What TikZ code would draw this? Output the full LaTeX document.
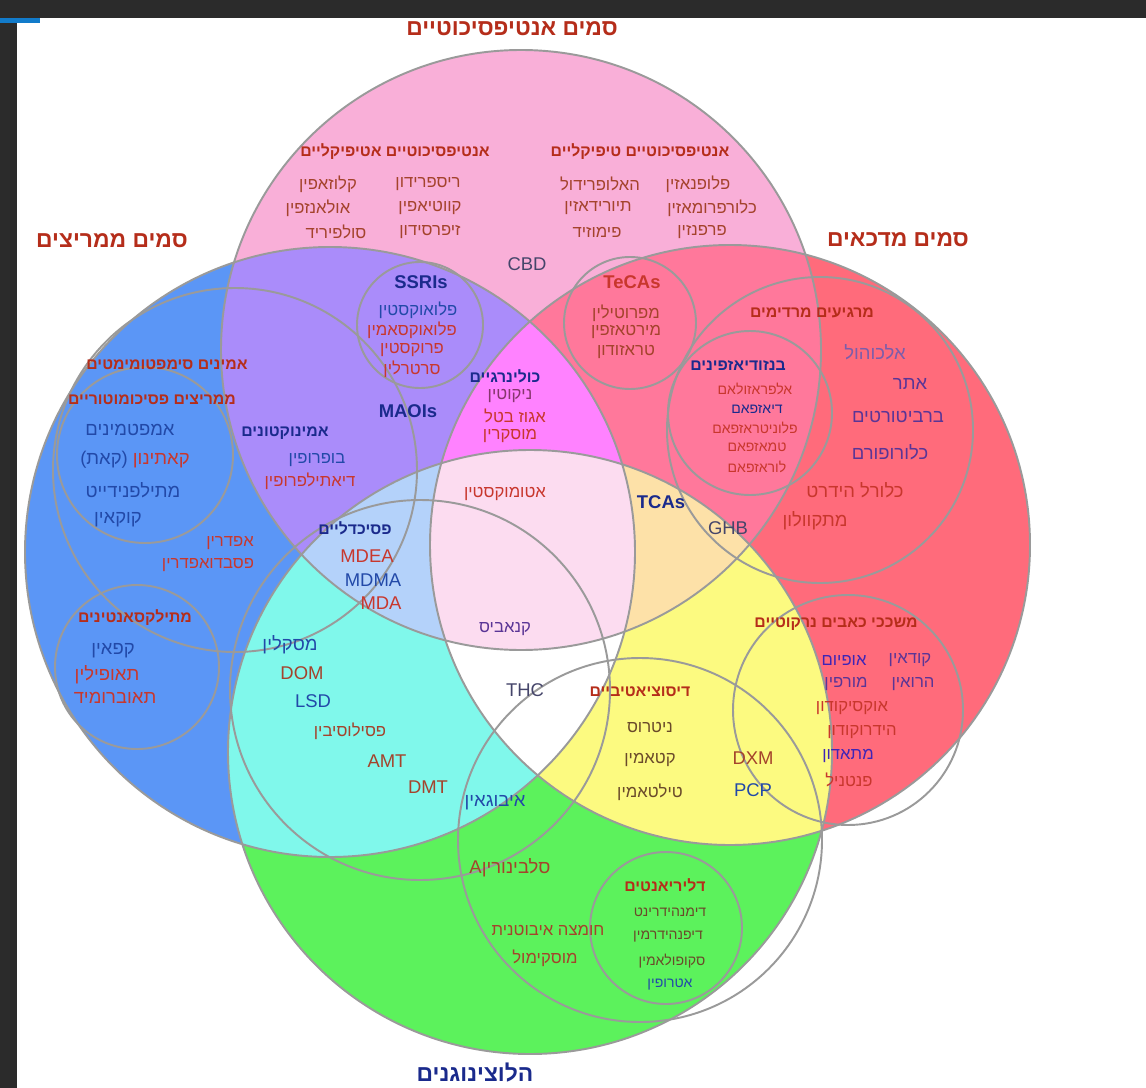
\documentclass[tikz,border=0pt]{standalone}
\usepackage{fontspec}
\setmainfont{Liberation Sans}
\newfontfamily\heb[Script=Hebrew]{Liberation Sans}
\TeXXeTstate=1
\newcommand{\hebt}[1]{{\heb\beginR #1\endR}}
\definecolor{framedark}{HTML}{2B2B2B}
\definecolor{pinkc}{HTML}{F9AFD8}
\definecolor{bluec}{HTML}{5B96F6}
\definecolor{redc}{HTML}{FF6B7B}
\definecolor{greenc}{HTML}{5CF25C}
\definecolor{purplec}{HTML}{AA8CFA}
\definecolor{pinkredc}{HTML}{FF789B}
\definecolor{magc}{HTML}{FF82FF}
\definecolor{lpinkc}{HTML}{FCDCF0}
\definecolor{lbluec}{HTML}{B4D2FA}
\definecolor{cyanc}{HTML}{80F8EB}
\definecolor{yellowc}{HTML}{FCFA80}
\definecolor{orangec}{HTML}{FDE1A8}
\definecolor{ringgray}{HTML}{9A9A9A}
\definecolor{titlered}{HTML}{B52D1A}
\definecolor{darkblue}{HTML}{1A2A8C}
\definecolor{itred}{HTML}{C8372D}
\definecolor{itbrown}{HTML}{A4432C}
\definecolor{itblue}{HTML}{2249A8}
\definecolor{itpurple}{HTML}{5A3596}
\definecolor{itgray}{HTML}{45456A}
\definecolor{itolive}{HTML}{6A4A2A}
\def\PK{(521,350) circle [radius=300]}
\def\BL{(330,552) circle [radius=305]}
\def\RD{(730,545) circle [radius=300]}
\def\GR{(530,752) circle [radius=302]}
\begin{document}
\begin{tikzpicture}[x=0.02cm,y=-0.02cm,
  ring/.style={draw=ringgray,line width=1.1pt},
  ttl/.style={font=\bfseries\fontsize{13}{15}\selectfont,text=titlered},
  sub/.style={font=\bfseries\fontsize{9}{11}\selectfont,text=titlered},
  lat/.style={font=\bfseries\fontsize{10.5}{12}\selectfont,text=darkblue},
  itm/.style={font=\fontsize{9.5}{11}\selectfont},
  big/.style={font=\fontsize{10.5}{12}\selectfont},
  sm/.style={font=\fontsize{8}{10}\selectfont},
  every node/.style={inner sep=0pt}]
\useasboundingbox (0,0) rectangle (1146,1088);
\fill[white] (0,0) rectangle (1146,1088);
\fill[framedark] (0,0) rectangle (1146,18);
\fill[framedark] (0,0) rectangle (17,1088);
\fill[cyan!60!blue] (0,18) rectangle (40,23);
% base circles
\fill[pinkc] \PK; \fill[bluec] \BL; \fill[redc] \RD; \fill[greenc] \GR;
% pairs
\begin{scope}\clip \PK; \fill[purplec] \BL; \end{scope}
\begin{scope}\clip \PK; \fill[pinkredc] \RD; \end{scope}
\begin{scope}\clip \BL; \fill[cyanc] \GR; \end{scope}
\begin{scope}\clip \RD; \fill[yellowc] \GR; \end{scope}
% triples
\begin{scope}\clip \PK; \clip \BL; \fill[magc] \RD; \end{scope}
\begin{scope}\clip \PK; \clip \BL; \fill[lbluec] \GR; \end{scope}
\begin{scope}\clip \PK; \clip \RD; \fill[orangec] \GR; \end{scope}
\begin{scope}\clip \BL; \clip \RD; \fill[white] \GR; \end{scope}
% all four
\begin{scope}\clip \PK; \clip \BL; \clip \RD; \fill[lpinkc] \GR; \end{scope}
% outlines
\draw[ring] \PK; \draw[ring] \BL; \draw[ring] \RD; \draw[ring] \GR;
\draw[ring] (420,325) circle [radius=63];   % SSRIs
\draw[ring] (630,323) circle [radius=66];   % TeCAs
\draw[ring] (145,455) circle [radius=88];   % psychostimulants
\draw[ring] (235,470) circle [radius=182];  % sympathomimetic amines
\draw[ring] (137,667) circle [radius=82];   % xanthines
\draw[ring] (820,430) circle [radius=153];  % sedative hypnotics
\draw[ring] (750,413) circle [radius=82];   % benzodiazepines
\draw[ring] (848,710) circle [radius=115];  % opioids
\draw[ring] (420,690) circle [radius=190];  % psychedelics
\draw[ring] (640,840) circle [radius=182];  % dissociatives
\draw[ring] (666,928) circle [radius=76];   % deliriants
% titles
\node[ttl] (tA) at (512,29) {\hebt{סמים אנטיפסיכוטיים}};
\node[ttl] (tS) at (112,241) {\hebt{סמים ממריצים}};
\node[ttl] (tD) at (898,240) {\hebt{סמים מדכאים}};
\node[ttl,text=darkblue] (tH) at (475,1073) {\hebt{הלוצינוגנים}};
% antipsychotics
\node[sub] (atyp) at (395,152) {\hebt{אנטיפסיכוטיים אטיפיקליים}};
\node[sub] (typ) at (640,152) {\hebt{אנטיפסיכוטיים טיפיקליים}};
\node[itm,text=itbrown] (a1) at (428,184) {\hebt{ריספרידון}};
\node[itm,text=itbrown] (a2) at (430,208) {\hebt{קווטיאפין}};
\node[itm,text=itbrown] (a3) at (430,232) {\hebt{זיפרסידון}};
\node[itm,text=itbrown] (a4) at (328,184) {\hebt{קלוזאפין}};
\node[itm,text=itbrown] (a5) at (318,208) {\hebt{אולאנזפין}};
\node[itm,text=itbrown] (a6) at (336,232) {\hebt{סולפיריד}};
\node[itm,text=itbrown] (b1) at (698,184) {\hebt{פלופנאזין}};
\node[itm,text=itbrown] (b2) at (712,208) {\hebt{כלורפרומאזין}};
\node[itm,text=itbrown] (b3) at (702,232) {\hebt{פרפנזין}};
\node[itm,text=itbrown] (b4) at (600,184) {\hebt{האלופרידול}};
\node[itm,text=itbrown] (b5) at (598,208) {\hebt{תיורידאזין}};
\node[itm,text=itbrown] (b6) at (597,232) {\hebt{פימוזיד}};
\node[big,text=itgray] (cbd) at (527,264) {CBD};
% SSRIs
\node[lat] (ssri) at (421,282) {SSRIs};
\node[itm,text=itblue] (s1) at (418,310) {\hebt{פלואוקסטין}};
\node[itm,text=itred] (s2) at (412,330) {\hebt{פלואוקסאמין}};
\node[itm,text=itred] (s3) at (412,350) {\hebt{פרוקסטין}};
\node[itm,text=itred] (s4) at (412,369) {\hebt{סרטרלין}};
\node[lat] (maoi) at (408,411) {MAOIs};
% cholinergics
\node[sub,text=darkblue] (chol) at (505,376) {\hebt{כולינרגיים}};
\node[itm,text=itpurple!60!itred] (c1) at (510,396) {\hebt{ניקוטין}};
\node[itm,text=itred] (c2) at (515,416) {\hebt{אגוז בטל}};
\node[itm,text=itred] (c3) at (510,436) {\hebt{מוסקרין}};
% TeCAs
\node[lat,text=itred] (tecas) at (632,282) {TeCAs};
\node[itm,text=itbrown] (e1) at (626,313) {\hebt{מפרוטילין}};
\node[itm,text=itbrown] (e2) at (626,332) {\hebt{מירטאזפין}};
\node[itm,text=itbrown] (e3) at (626,352) {\hebt{טראזודון}};
% sedatives
\node[sub] (sed) at (812,313) {\hebt{מרגיעים מרדימים}};
\node[sub,text=darkblue] (benzo) at (738,366) {\hebt{בנזודיאזפינים}};
\node[sm,text=itred] (z1) at (755,389) {\hebt{אלפראזולאם}};
\node[sm,text=darkblue] (z2) at (757,409) {\hebt{דיאזפאם}};
\node[sm,text=itred] (z3) at (755,428) {\hebt{פלוניטראזפאם}};
\node[sm,text=itred] (z4) at (757,447) {\hebt{טמאזפאם}};
\node[sm,text=itred] (z5) at (757,467) {\hebt{לוראזפאם}};
\node[big,text=itpurple!80] (d1) at (875,352) {\hebt{אלכוהול}};
\node[big,text=itpurple] (d2) at (910,384) {\hebt{אתר}};
\node[big,text=itpurple] (d3) at (898,417) {\hebt{ברביטורטים}};
\node[big,text=itpurple] (d4) at (890,452) {\hebt{כלורופורם}};
\node[big,text=itred] (d5) at (855,490) {\hebt{כלורל הידרט}};
\node[big,text=itred] (d6) at (815,521) {\hebt{מתקוולון}};
% centre
\node[lat] (tcas) at (661,502) {TCAs};
\node[big,text=itgray] (ghb) at (728,528) {GHB};
\node[itm,text=itred] (atx) at (505,494) {\hebt{אטומוקסטין}};
\node[itm,text=itpurple] (can) at (505,629) {\hebt{קנאביס}};
\node[big,text=itgray] (thc) at (525,690) {THC};
% stimulants
\node[sub] (symp) at (167,365) {\hebt{אמינים סימפטומימטים}};
\node[sub] (psst) at (152,400) {\hebt{ממריצים פסיכומוטוריים}};
\node[big,text=itblue] (m1) at (130,430) {\hebt{אמפטמינים}};
\node[big] (m2) at (135,460) {\textcolor{itblue}{(}\textcolor{itblue}{\hebt{קאת}}\textcolor{itblue}{)} \textcolor{itred}{\hebt{קאתינון}}};
\node[big,text=itblue] (m3) at (133,490) {\hebt{מתילפנידייט}};
\node[big,text=itblue] (m4) at (118,520) {\hebt{קוקאין}};
\node[itm,text=itred] (m5) at (230,543) {\hebt{אפדרין}};
\node[itm,text=itred] (m6) at (208,565) {\hebt{פסבדואפדרין}};
\node[sub,text=darkblue] (amk) at (285,433) {\hebt{אמינוקטונים}};
\node[itm,text=itblue] (k1) at (317,460) {\hebt{בופרופין}};
\node[itm,text=itred] (k2) at (310,481) {\hebt{דיאתילפרופין}};
\node[sub] (xan) at (135,618) {\hebt{מתילקסאנטינים}};
\node[big,text=itblue] (x1) at (113,651) {\hebt{קפאין}};
\node[big,text=itred] (x2) at (107,675) {\hebt{תאופילין}};
\node[big,text=itred] (x3) at (115,698) {\hebt{תאוברומיד}};
% psychedelics
\node[sub,text=darkblue] (psyd) at (355,528) {\hebt{פסיכדליים}};
\node[big,text=itred] (p1) at (367,556) {MDEA};
\node[big,text=itblue] (p2) at (373,580) {MDMA};
\node[big,text=itred] (p3) at (381,603) {MDA};
\node[big,text=itblue] (p4) at (290,645) {\hebt{מסקלין}};
\node[big,text=itbrown] (p5) at (302,673) {DOM};
\node[big,text=itblue] (p6) at (313,701) {LSD};
\node[itm,text=itbrown] (p7) at (350,731) {\hebt{פסילוסיבין}};
\node[big,text=itbrown] (p8) at (387,761) {AMT};
\node[big,text=itbrown] (p9) at (428,787) {DMT};
\node[big,text=itblue] (ibo) at (495,803) {\hebt{איבוגאין}};
\node[big,text=itbrown] (salv) at (510,868) {A\hebt{סלבינורין}};
% dissociatives
\node[sub] (diss) at (640,692) {\hebt{דיסוציאטיביים}};
\node[itm,text=itolive] (q1) at (650,727) {\hebt{ניטרוס}};
\node[itm,text=itolive] (q2) at (650,760) {\hebt{קטאמין}};
\node[itm,text=itolive] (q3) at (650,792) {\hebt{טילטאמין}};
\node[big,text=itbrown] (dxm) at (753,758) {DXM};
\node[big,text=itblue] (pcp) at (753,790) {PCP};
% opioids
\node[sub] (opi) at (836,624) {\hebt{משככי כאבים נרקוטיים}};
\node[itm,text=itpurple] (o1) at (910,660) {\hebt{קודאין}};
\node[itm,text=itpurple!70!blue] (o2) at (844,660) {\hebt{אופיום}};
\node[itm,text=itpurple] (o3) at (913,684) {\hebt{הרואין}};
\node[itm,text=itpurple] (o4) at (846,684) {\hebt{מורפין}};
\node[itm,text=itred] (o5) at (852,708) {\hebt{אוקסיקודון}};
\node[itm,text=itred] (o6) at (862,732) {\hebt{הידרוקודון}};
\node[itm,text=itpurple!70!blue] (o7) at (848,756) {\hebt{מתאדון}};
\node[itm,text=itred] (o8) at (849,780) {\hebt{פנטניל}};
% deliriants
\node[sub] (deli) at (665,885) {\hebt{דליריאנטים}};
\node[sm,text=itolive] (l1) at (670,912) {\hebt{דימנהידרינט}};
\node[sm,text=itolive] (l2) at (668,937) {\hebt{דיפנהידרמין}};
\node[sm,text=itolive] (l3) at (672,961) {\hebt{סקופולאמין}};
\node[sm,text=itblue] (l4) at (670,985) {\hebt{אטרופין}};
\node[itm,text=itbrown] (ib1) at (548,930) {\hebt{חומצה איבוטנית}};
\node[itm,text=itbrown] (ib2) at (545,958) {\hebt{מוסקימול}};
\end{tikzpicture}
\end{document}
